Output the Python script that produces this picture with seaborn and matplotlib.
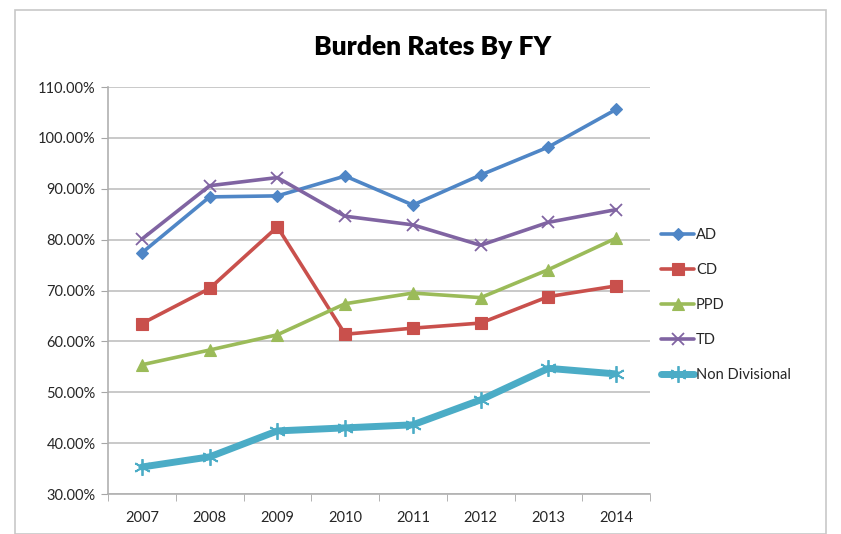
import pandas as pd
import matplotlib.pyplot as plt
import numpy as np
import seaborn as sns
from matplotlib.patches import Rectangle

years = ['2007', '2008', '2009', '2010', '2011', '2012', '2013', '2014']
ad = [77.4, 88.4, 88.6, 92.5, 86.8, 92.7, 98.2, 105.6]
cd = [63.5, 70.4, 82.5, 61.4, 62.6, 63.6, 68.8, 70.9]
ppd = [55.4, 58.3, 61.3, 67.4, 69.5, 68.6, 74.1, 80.3]
td = [80.1, 90.6, 92.2, 84.6, 82.9, 78.9, 83.4, 85.9]
non_div = [35.3, 37.3, 42.4, 43.0, 43.6, 48.5, 54.7, 53.6]

series = ['AD', 'CD', 'PPD', 'TD', 'Non Divisional']
values = [ad, cd, ppd, td, non_div]

rows = []
for name, vals in zip(series, values):
    for i, (yr, v) in enumerate(zip(years, vals)):
        rows.append({'series': name, 'pos': i, 'year': yr, 'rate': v})
df = pd.DataFrame(rows)

sns.set_style('white')
plt.rcParams['font.family'] = ['Lato', 'DejaVu Sans']

colors = {'AD': '#4F86C6', 'CD': '#C9504C', 'PPD': '#9BBB59',
          'TD': '#8064A2', 'Non Divisional': '#4BACC6'}
markers = {'AD': 'D', 'CD': 's', 'PPD': '^', 'TD': 'x', 'Non Divisional': (6, 2, 0)}
widths = {'AD': 2.6, 'CD': 2.6, 'PPD': 2.6, 'TD': 2.6, 'Non Divisional': 5.0}
msizes = {'AD': 6.5, 'CD': 8.5, 'PPD': 8.5, 'TD': 9, 'Non Divisional': 12}

fig = plt.figure(figsize=(8.41, 5.34), dpi=100)
fig.patches.append(Rectangle((15 / 841, 0), 811 / 841, 1 - 10 / 534, transform=fig.transFigure,
                             fill=False, edgecolor='#C8C8C8', linewidth=1.2))
ax = fig.add_axes([108 / 841, 1 - 494 / 534, 542 / 841, 407 / 534])

for name in series:
    sub = df[df['series'] == name]
    mk = markers[name]
    sns.lineplot(data=sub, x='pos', y='rate', ax=ax, color=colors[name], linewidth=widths[name],
                 marker=mk, markersize=msizes[name], markeredgecolor=colors[name],
                 markeredgewidth=1.3 if name in ('TD', 'Non Divisional') else 0.8,
                 label=name, legend=False)

ax.set_xlim(-0.5, 7.5)
ax.set_ylim(30, 110)
ax.set_yticks(np.arange(30, 110.1, 10))
ax.set_yticklabels([f'{v:.2f}%' for v in np.arange(30, 110.1, 10)], fontsize=10.5)
ax.set_xticks(range(len(years)))
ax.set_xticklabels(years, fontsize=10.5)
ax.set_xticks(np.arange(-0.5, 7.6, 1), minor=True)
ax.tick_params(axis='x', which='major', length=0, pad=12)
ax.tick_params(axis='x', which='minor', length=5, color='#A6A6A6', direction='out', bottom=True)
ax.tick_params(axis='y', length=5, color='#A6A6A6', direction='out', left=True, pad=4)
ax.grid(axis='y', color='#C0C0C0', linewidth=1.2)
ax.set_xlabel('')
ax.set_ylabel('')
for side in ['top', 'right']:
    ax.spines[side].set_visible(False)
for side in ['left', 'bottom']:
    ax.spines[side].set_color('#B0B0B0')
    ax.spines[side].set_linewidth(1.2)

handles, labels = ax.get_legend_handles_labels()
fig.legend(handles, labels, loc='upper left', bbox_to_anchor=(655 / 841, 1 - 222 / 534),
           frameon=False, fontsize=10.5, handlelength=2.3, handletextpad=0.1,
           labelspacing=1.45, borderaxespad=0)

fig.text(433 / 841, 1 - 47 / 534, 'Burden Rates By FY', ha='center', va='center',
         fontsize=19, fontweight='heavy', color='black')

plt.savefig('out.png', dpi=100)
